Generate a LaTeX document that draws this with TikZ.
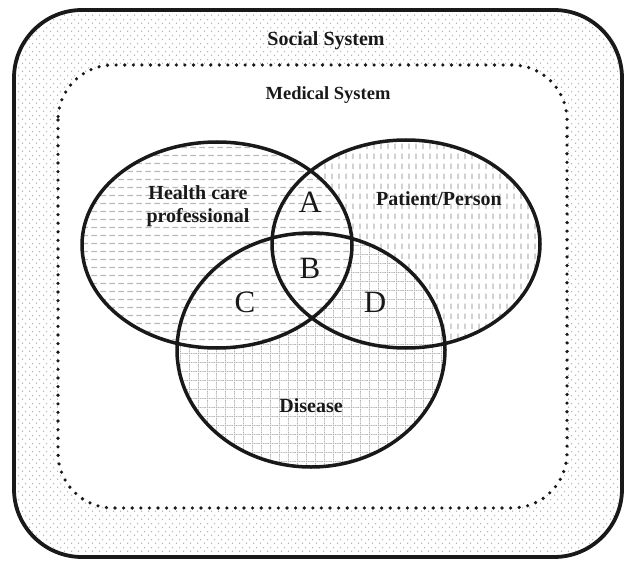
\documentclass[tikz,border=0pt]{standalone}
\usepackage{fontspec}
\setmainfont{Liberation Serif}
\usetikzlibrary{patterns}

\pgfdeclarepatternformonly{hdashpat}{\pgfqpoint{0pt}{0pt}}{\pgfqpoint{9pt}{7.5pt}}{\pgfqpoint{9pt}{7.5pt}}{%
  \pgfsetlinewidth{1.4pt}%
  \pgfpathmoveto{\pgfqpoint{1.5pt}{3.75pt}}\pgfpathlineto{\pgfqpoint{7.5pt}{3.75pt}}%
  \pgfusepath{stroke}}
\pgfdeclarepatternformonly{vdashpat}{\pgfqpoint{0pt}{0pt}}{\pgfqpoint{7pt}{10pt}}{\pgfqpoint{7pt}{10pt}}{%
  \pgfsetlinewidth{1.5pt}%
  \pgfpathmoveto{\pgfqpoint{3.5pt}{2pt}}\pgfpathlineto{\pgfqpoint{3.5pt}{8pt}}%
  \pgfusepath{stroke}}
\pgfdeclarepatternformonly{dotspat}{\pgfqpoint{0pt}{0pt}}{\pgfqpoint{7pt}{8pt}}{\pgfqpoint{7pt}{8pt}}{%
  \pgfpathcircle{\pgfqpoint{1.75pt}{2pt}}{0.85pt}%
  \pgfpathcircle{\pgfqpoint{5.25pt}{6pt}}{0.85pt}%
  \pgfusepath{fill}}
\pgfdeclarepatternformonly{gridpat}{\pgfqpoint{0pt}{0pt}}{\pgfqpoint{9pt}{9pt}}{\pgfqpoint{9pt}{9pt}}{%
  \pgfsetlinewidth{1pt}%
  \pgfsetdash{{1.2pt}{0.8pt}}{0pt}%
  \pgfpathmoveto{\pgfqpoint{0pt}{0.5pt}}\pgfpathlineto{\pgfqpoint{9pt}{0.5pt}}%
  \pgfpathmoveto{\pgfqpoint{0.5pt}{0pt}}\pgfpathlineto{\pgfqpoint{0.5pt}{9pt}}%
  \pgfusepath{stroke}}

\begin{document}
\begin{tikzpicture}[x=1pt,y=-1pt,
  outline/.style={line width=3.5pt, draw=black!90},
  lbl/.style={font=\bfseries\fontsize{20}{23}\selectfont, inner sep=0pt, align=center, text=black!90},
  sublbl/.style={font=\bfseries\fontsize{18.5}{22}\selectfont, inner sep=0pt, text=black!90},
  letter/.style={font=\fontsize{31}{31}\selectfont, inner sep=0pt, text=black!90}]
\useasboundingbox (0,0) rectangle (626,561);
\fill[white] (0,0) rectangle (626,561);

% social system
\path[preaction={fill=white}, pattern=dotspat, pattern color=gray!60, rounded corners=68pt] (14,10) rectangle (622,557);
\draw[line width=3.8pt, draw=black!90, rounded corners=68pt] (14,10) rectangle (622,557);

% medical system
\draw[preaction={fill=white}, line width=3.6pt, draw=black!90, dash pattern=on 0pt off 8.6pt, line cap=round, rounded corners=55pt] (58,65) rectangle (567,508);

% circles (fills)
\path[preaction={fill=white}, pattern=vdashpat, pattern color=gray!55] (406,244) ellipse [x radius=134, y radius=104];
\path[preaction={fill=white}, pattern=gridpat, pattern color=gray!60] (311,350) ellipse [x radius=134, y radius=117];
\path[preaction={fill=white}, pattern=hdashpat, pattern color=gray!55] (217,245) ellipse [x radius=135, y radius=103];

% outlines
\draw[outline] (406,244) ellipse [x radius=134, y radius=104];
\draw[outline] (311,350) ellipse [x radius=134, y radius=117];
\draw[outline] (217,245) ellipse [x radius=135, y radius=103];

% labels
\node[lbl, anchor=base] (social) at (326,46) {Social System};
\node[sublbl, anchor=base] (medical) at (328,100) {Medical System};
\node[lbl, anchor=base] (hcp1) at (198,200) {Health care};
\node[lbl, anchor=base] (hcp2) at (198,223) {professional};
\node[lbl, anchor=base] (patient) at (439,206) {Patient/Person};
\node[lbl, anchor=base] (disease) at (311,412) {Disease};
\node[letter, anchor=base] (A) at (310,213) {A};
\node[letter, anchor=base] (B) at (310,278) {B};
\node[letter, anchor=base] (C) at (245,312) {C};
\node[letter, anchor=base] (D) at (375,312) {D};
\end{tikzpicture}
\end{document}
